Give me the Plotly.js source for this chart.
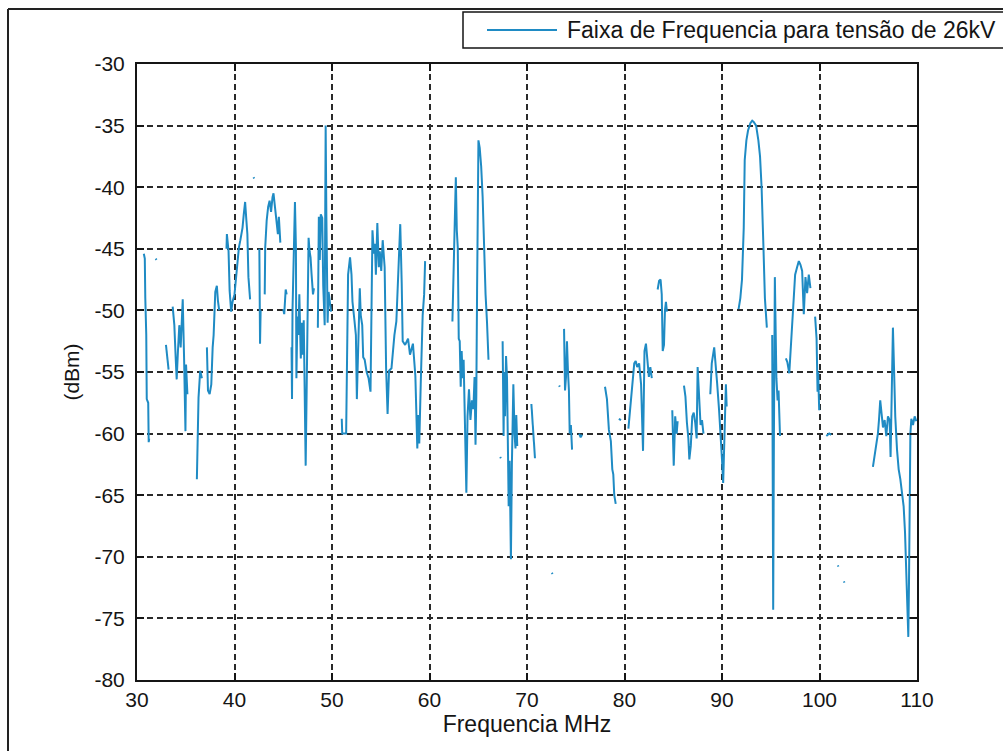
<!DOCTYPE html>
<html>
<head>
<meta charset="utf-8">
<script src="https://cdn.plot.ly/plotly-3.0.1.min.js"></script>
<style>
html, body { margin: 0; padding: 0; background: #fff; }
#chart { width: 1003px; height: 751px; }
</style>
</head>
<body>
<div id="chart"></div>
<script>
// Spectrum sweep 30–110 MHz at 26 kV; null = no reading (trace is broken there)
const freqMHz = [
  30.70, 30.80, 30.85, 30.95, 31.00, 31.15, 31.20, 31.25, null,
  31.92, 32.00, null,
  32.97, 33.10, 33.24, null,
  33.66, 33.83, 33.97, 34.07, 34.20, 34.34, 34.48, 34.59, 34.69, 34.83, 34.97, 35.03, 35.17, null,
  36.14, 36.20, 36.31, 36.48, 36.66, null,
  37.17, 37.28, 37.45, 37.62, 37.76, 37.86, 38.03, 38.19, 38.30, 38.43, null,
  39.18, 39.22, 39.39, 39.50, 39.66, 39.80, 40.00, 40.15, 40.30, 40.45, 40.60, 40.82, 40.95, 41.09, 41.22, 41.32, 41.43, 41.60, null,
  41.95, 42.02, null,
  42.55, 42.62, 42.68, null,
  43.10, 43.15, 43.30, 43.45, 43.60, 43.75, 43.90, 44.00, 44.15, 44.30, 44.45, 44.55, 44.70, null,
  45.00, 45.10, 45.25, 45.35, null,
  45.85, 45.90, 45.95, 46.05, 46.20, 46.30, 46.35, 46.45, 46.55, 46.65, 46.72, 46.80, 46.90, 47.00, 47.10, 47.20, 47.30, 47.40, 47.50, 47.60, 47.70, 47.80, 47.90, 48.05, 48.15, null,
  48.55, 48.65, 48.75, 48.85, 49.00, 49.10, 49.25, 49.35, 49.42, 49.48, 49.55, 49.65, 49.80, 49.90, null,
  51.00, 51.05, 51.45, 51.50, 51.55, 51.65, 51.85, 52.00, 52.10, 52.20, 52.30, 52.45, 52.55, 52.62, 52.72, 52.85, 52.95, 53.10, 53.20, 53.35, 53.55, 53.75, 53.95, 54.02, 54.15, 54.30, 54.40, 54.50, 54.65, 54.80, 54.90, 55.05, 55.20, 55.40, 55.55, 55.70, 55.85, 56.10, 56.40, 56.60, 56.80, 57.00, 57.15, 57.25, 57.50, 57.80, 58.00, 58.30, 58.55, 58.75, 58.85, 58.95, 59.10, 59.30, 59.45, 59.55, null,
  62.35, 62.55, 62.70, 62.80, 62.90, 63.00, 63.10, 63.20, 63.30, 63.40, 63.50, 63.62, 63.78, 63.90, 64.05, 64.20, 64.35, 64.50, 64.62, 64.72, 64.80, 64.88, 65.02, 65.15, 65.30, 65.45, 65.60, 65.75, 65.90, 66.05, null,
  67.25, 67.32, null,
  67.50, 67.60, 67.66, 67.75, 67.85, 67.95, 68.05, 68.12, 68.22, 68.35, 68.45, 68.52, 68.60, 68.72, 68.82, 68.90, 69.00, null,
  70.45, 70.55, 70.68, 70.82, null,
  72.55, 72.62, null,
  73.30, 73.36, null,
  73.80, 73.90, 74.00, 74.10, 74.20, 74.30, 74.38, 74.50, 74.62, null,
  75.35, 75.50, 75.65, null,
  78.00, 78.20, 78.40, 78.60, 78.75, 78.85, 78.95, 79.10, null,
  79.42, 79.64, null,
  80.40, 80.55, 80.70, 80.85, 81.00, 81.15, 81.30, 81.50, 81.70, 81.90, 81.95, 82.05, 82.20, 82.35, 82.50, 82.65, 82.80, null,
  83.40, 83.55, 83.70, 83.82, 83.92, 84.05, 84.15, 84.25, 84.35, null,
  84.90, 85.05, 85.20, 85.35, 85.45, null,
  86.10, 86.25, 86.40, 86.55, 86.65, 86.80, 86.95, 87.10, 87.25, 87.40, 87.50, 87.65, 87.80, 87.95, 88.10, null,
  88.80, 88.95, 89.20, 89.35, 89.50, 89.70, 89.85, 90.00, 90.12, 90.22, 90.40, 90.48, null,
  91.70, 91.88, 92.05, 92.23, 92.33, 92.50, 92.67, 92.91, 93.10, 93.25, 93.50, 93.73, 93.90, 94.06, 94.23, 94.40, 94.60, null,
  95.15, 95.25, 95.32, 95.42, 95.50, 95.58, 95.70, 95.80, 95.95, null,
  96.55, 96.70, 96.90, 97.05, 97.30, 97.50, 97.70, 97.88, 98.05, 98.22, 98.39, 98.56, 98.73, 98.90, 99.07, null,
  99.55, 99.70, 99.80, 99.86, 99.97, null,
  100.70, 101.00, 101.20, null,
  101.88, 101.94, null,
  102.50, 102.56, null,
  105.48, 105.65, 105.82, 105.99, 106.10, 106.23, 106.37, 106.51, 106.68, 106.85, 107.02, 107.19, 107.29, 107.40, 107.53, 107.64, 107.77, 107.95, 108.12, 108.29, 108.46, 108.63, 108.77, 108.90, 109.04, 109.11, 109.18, 109.25, 109.32, 109.42, 109.59, 109.76, 109.93
];

const levelDbm = [
  -45.4, -45.8, -49.0, -52.0, -57.2, -57.5, -60.7, -60.4, null,
  -45.8, -45.9, null,
  -52.8, -53.9, -54.8, null,
  -49.7, -51.2, -53.9, -55.6, -53.3, -51.2, -53.0, -50.1, -49.1, -53.9, -59.8, -54.4, -56.8, null,
  -63.7, -61.4, -57.1, -54.9, -55.5, null,
  -53.0, -56.5, -56.8, -56.0, -53.0, -52.0, -48.5, -48.0, -49.2, -50.0, null,
  -45.0, -43.8, -45.2, -48.4, -50.1, -49.3, -48.7, -47.3, -45.9, -44.9, -44.3, -43.3, -42.2, -41.2, -42.7, -43.8, -47.3, -49.1, null,
  -39.2, -39.3, null,
  -45.0, -52.7, -50.0, null,
  -48.7, -44.9, -42.7, -41.6, -41.1, -42.0, -40.8, -40.5, -41.6, -42.7, -43.8, -42.4, -44.5, null,
  -49.9, -50.3, -48.3, -48.7, null,
  -53.0, -57.2, -50.0, -44.9, -41.2, -44.9, -55.5, -50.5, -52.0, -48.7, -52.8, -53.9, -51.0, -53.6, -50.8, -59.2, -62.6, -56.5, -51.2, -44.1, -45.2, -45.7, -47.0, -48.7, -48.2, null,
  -51.4, -42.4, -45.9, -42.2, -42.5, -48.0, -51.2, -35.0, -42.2, -46.0, -51.0, -48.5, -49.5, -50.1, null,
  -58.8, -60.0, -60.0, -55.4, -51.0, -47.1, -45.7, -47.1, -49.3, -50.4, -50.8, -52.0, -57.2, -55.0, -51.0, -48.2, -50.4, -51.2, -53.8, -54.0, -55.0, -55.5, -56.6, -50.4, -43.5, -45.4, -44.6, -47.1, -42.9, -46.5, -45.2, -46.8, -44.3, -46.5, -54.7, -58.4, -54.9, -54.7, -52.0, -50.9, -47.3, -43.0, -47.8, -52.5, -52.8, -52.3, -53.6, -52.7, -55.3, -61.2, -58.5, -60.8, -56.0, -50.4, -48.7, -46.0, null,
  -50.9, -45.0, -39.2, -43.5, -44.9, -52.3, -52.5, -56.2, -53.3, -55.5, -54.0, -58.6, -64.8, -58.6, -56.4, -58.9, -57.3, -58.0, -55.4, -60.9, -57.0, -48.4, -36.2, -36.8, -38.3, -40.8, -44.9, -48.7, -51.0, -54.0, null,
  -61.9, -62.0, null,
  -52.5, -60.2, -55.0, -58.6, -53.7, -55.5, -61.5, -65.9, -62.2, -70.2, -62.5, -57.5, -56.0, -60.0, -61.2, -58.5, -61.0, null,
  -57.6, -58.8, -60.0, -62.0, null,
  -71.3, -71.4, null,
  -56.1, -56.2, null,
  -51.5, -56.5, -55.4, -52.5, -54.9, -56.5, -60.0, -59.3, -61.3, null,
  -60.0, -60.3, -60.1, null,
  -56.2, -57.2, -59.7, -60.6, -62.9, -63.3, -65.0, -65.7, null,
  -58.8, -58.9, null,
  -59.6, -58.4, -56.7, -55.4, -54.3, -54.1, -54.6, -54.3, -56.0, -61.4, -57.5, -53.3, -52.7, -53.9, -55.4, -54.6, -55.5, null,
  -48.3, -47.6, -47.5, -48.7, -53.3, -52.8, -50.0, -49.3, -50.1, null,
  -58.1, -62.6, -58.6, -60.0, -59.0, null,
  -56.1, -57.0, -59.1, -60.4, -62.1, -61.0, -58.6, -58.3, -59.1, -60.4, -54.6, -57.2, -59.3, -58.9, -60.0, null,
  -56.8, -54.3, -53.0, -54.3, -55.9, -58.1, -59.7, -62.1, -64.0, -61.0, -56.0, -57.8, null,
  -49.9, -49.0, -47.5, -43.3, -37.8, -36.2, -35.4, -34.8, -34.6, -34.7, -35.0, -36.2, -37.5, -40.0, -44.3, -49.0, -51.4, null,
  -52.0, -74.3, -60.8, -47.3, -51.5, -55.5, -57.3, -56.5, -60.2, null,
  -53.9, -54.2, -55.1, -53.1, -49.5, -47.1, -46.5, -46.0, -46.3, -46.8, -50.3, -47.3, -48.6, -47.1, -48.2, null,
  -50.5, -52.3, -56.6, -55.0, -58.1, null,
  -60.2, -60.0, -60.1, null,
  -70.7, -70.8, null,
  -72.0, -72.1, null,
  -62.7, -61.9, -61.0, -60.0, -58.9, -57.3, -58.4, -59.5, -58.9, -60.2, -58.6, -58.9, -61.9, -56.8, -51.4, -54.6, -58.6, -61.3, -62.9, -63.7, -64.8, -65.9, -68.0, -71.5, -74.7, -76.5, -72.0, -67.5, -60.0, -58.8, -59.3, -58.6, -59.0
];

const xTicks = [30, 40, 50, 60, 70, 80, 90, 100, 110];
const yTicks = [-80, -75, -70, -65, -60, -55, -50, -45, -40, -35, -30];
const seriesName = 'Faixa de Frequencia para tensão de 26kV';

const W = 1003, H = 751;
const box = { left: 137, right: 917, top: 64, bottom: 680 };   // axes area in page pixels
const toPaperX = p => (p - box.left) / (box.right - box.left);
const toPaperY = p => (box.bottom - p) / (box.bottom - box.top);

const lineColor = '#1f8bc4';
const ink = '#151515';
const fontFamily = 'Liberation Sans, Arial, Helvetica, sans-serif';

const axisCommon = {
  ticks: 'inside',
  ticklen: 7,
  tickwidth: 2,
  tickcolor: ink,
  showline: true,
  linewidth: 2,
  linecolor: ink,
  mirror: 'ticks',
  showgrid: true,
  gridcolor: '#2a2a2a',
  gridwidth: 2,
  griddash: '6px,4px',
  zeroline: false,
  fixedrange: true,
  tickfont: { family: fontFamily, size: 21, color: ink }
};

const trace = {
  x: freqMHz,
  y: levelDbm,
  type: 'scatter',
  mode: 'lines',
  name: seriesName,
  connectgaps: false,
  line: { color: lineColor, width: 2 },
  hoverinfo: 'skip'
};

const layout = {
  width: W,
  height: H,
  margin: { l: box.left, r: W - box.right, t: box.top, b: H - box.bottom, autoexpand: false },
  paper_bgcolor: '#ffffff',
  plot_bgcolor: '#ffffff',
  showlegend: false,
  font: { family: fontFamily, size: 21, color: ink },
  xaxis: Object.assign({}, axisCommon, {
    range: [30, 110],
    tickvals: xTicks,
    ticktext: xTicks.map(String),
    title: { text: 'Frequencia MHz', standoff: 6, font: { family: fontFamily, size: 23, color: ink } }
  }),
  yaxis: Object.assign({}, axisCommon, {
    range: [-80, -30],
    tickvals: yTicks,
    ticktext: yTicks.map(String),
    ticklabelstandoff: 6,
    title: { text: '(dBm)', standoff: 9, font: { family: fontFamily, size: 21, color: ink } }
  }),
  shapes: [
    // figure border (left and top edges are inside the page)
    { type: 'line', xref: 'paper', yref: 'paper', x0: toPaperX(8), x1: toPaperX(8), y0: toPaperY(9), y1: toPaperY(760), line: { color: '#222', width: 2 } },
    { type: 'line', xref: 'paper', yref: 'paper', x0: toPaperX(8), x1: toPaperX(1010), y0: toPaperY(9), y1: toPaperY(9), line: { color: '#222', width: 2 } },
    // legend box and its line sample
    { type: 'rect', xref: 'paper', yref: 'paper', x0: toPaperX(463), x1: toPaperX(1012), y0: toPaperY(48), y1: toPaperY(12), line: { color: ink, width: 1.5 }, fillcolor: '#ffffff' },
    { type: 'line', xref: 'paper', yref: 'paper', x0: toPaperX(487), x1: toPaperX(557), y0: toPaperY(30), y1: toPaperY(30), line: { color: lineColor, width: 2 } }
  ],
  annotations: [
    { xref: 'paper', yref: 'paper', x: toPaperX(565), y: toPaperY(30), xanchor: 'left', yanchor: 'middle', showarrow: false, text: seriesName, font: { family: fontFamily, size: 23, color: ink } }
  ]
};

Plotly.newPlot('chart', [trace], layout, { staticPlot: true, displayModeBar: false });
</script>
</body>
</html>
